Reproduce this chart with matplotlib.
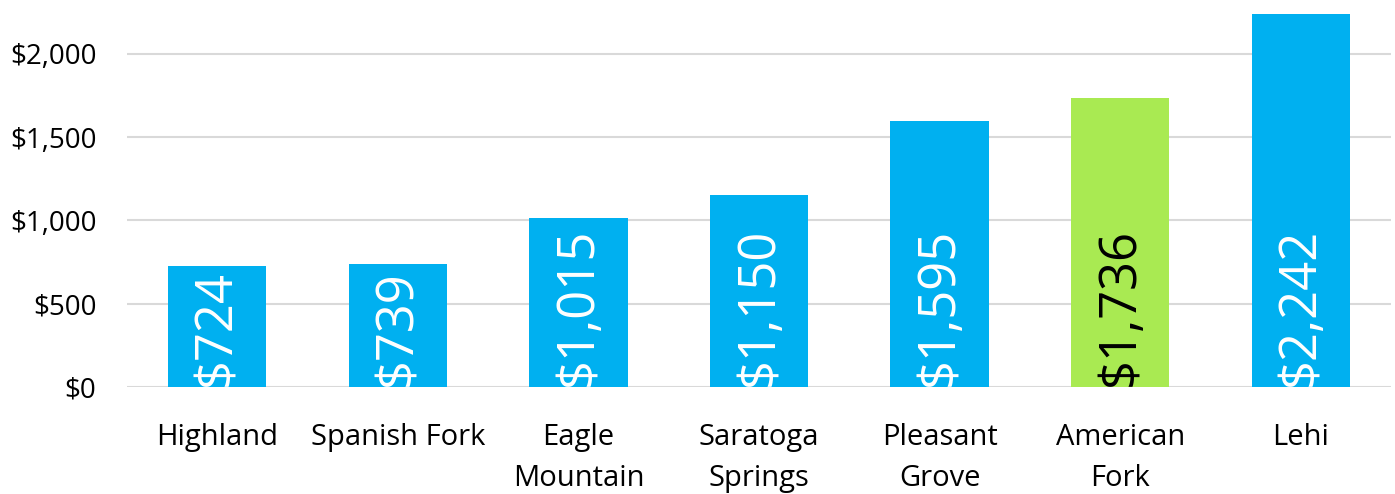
import matplotlib.pyplot as plt

plt.rcParams['font.family'] = ['Open Sans', 'DejaVu Sans']

cities = ['Highland', 'Spanish Fork', 'Eagle\nMountain', 'Saratoga\nSprings',
          'Pleasant\nGrove', 'American\nFork', 'Lehi']
values = [724, 739, 1015, 1150, 1595, 1736, 2242]
highlight = 'American\nFork'

blue = '#00B0F0'
green = '#A9EA52'

fig = plt.figure(figsize=(13.95, 4.94), dpi=100)
ax = fig.add_axes([127 / 1395, 1 - 387 / 494, 1264 / 1395, 383 / 494])

x = range(len(cities))
cols = [green if c == highlight else blue for c in cities]
ax.bar(x, values, width=0.545, color=cols, zorder=2)

for i, v in enumerate(values):
    tc = 'black' if cities[i] == highlight else 'white'
    ax.annotate(f'${v:,}', (i, 0), xytext=(0, 1), textcoords='offset points',
                rotation=90, ha='center', va='bottom', fontsize=36.5, color=tc, zorder=3)

ax.set_xlim(-0.5, len(cities) - 0.5)
ax.set_ylim(0, 2300)
ax.set_yticks([0, 500, 1000, 1500, 2000])
ax.set_yticklabels([f'${t:,}' for t in [0, 500, 1000, 1500, 2000]])
ax.set_xticks(list(x))
ax.set_xticklabels(cities, linespacing=1.55)
ax.tick_params(axis='y', length=0, pad=22, labelsize=20)
ax.tick_params(axis='x', length=0, pad=26, labelsize=21)
ax.yaxis.grid(True, color='#D9D9D9', linewidth=1.5, zorder=0)
ax.set_axisbelow(True)
for s in ax.spines.values():
    s.set_visible(False)

fig.savefig('out.png', dpi=100)
